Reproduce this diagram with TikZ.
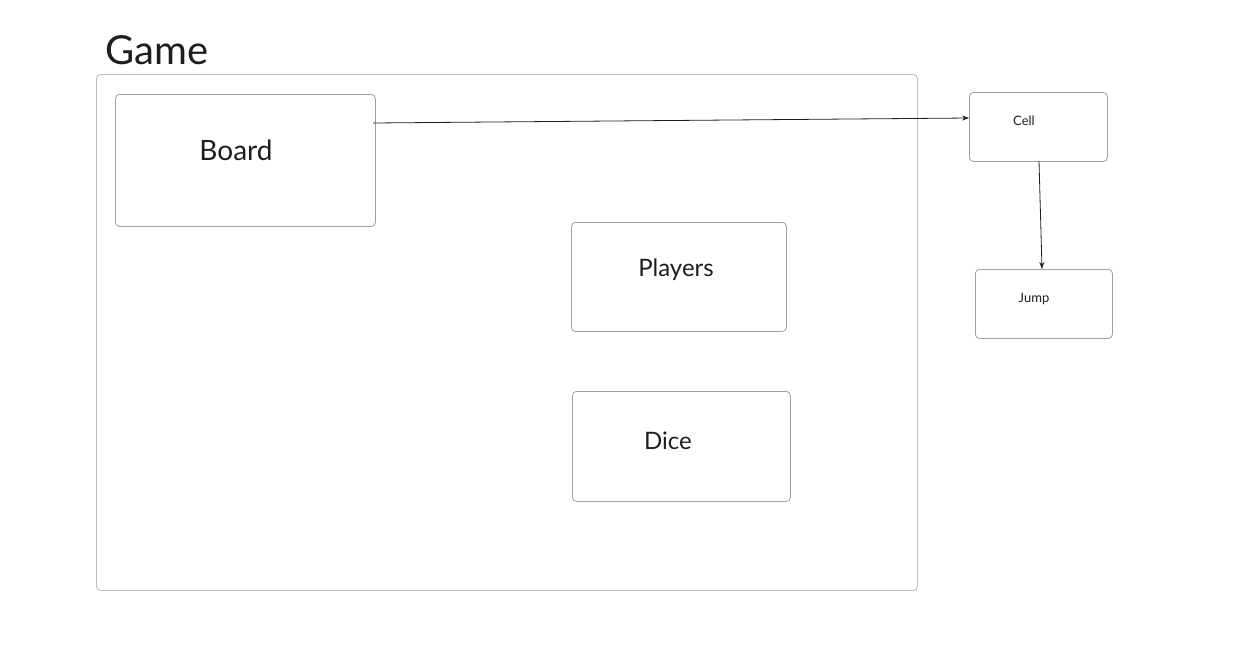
\documentclass[tikz,border=0pt]{standalone}
\usepackage{fontspec}
\setmainfont{Lato}
\usetikzlibrary{arrows.meta}
\definecolor{ink}{HTML}{1E1E1E}
\definecolor{frame}{HTML}{BEBEBE}
\definecolor{boxline}{HTML}{A0A0A0}
\tikzset{
  box/.style={draw=boxline, line width=0.8pt, rounded corners=4pt, inner sep=0pt, anchor=north west},
  frm/.style={draw=frame, line width=0.9pt, rounded corners=4pt, inner sep=0pt, anchor=north west},
  txt/.style={text=ink, inner sep=0pt},
  conn/.style={draw=ink, line width=0.8pt, -{Stealth[length=7pt,width=5pt]}}
}
\begin{document}
\begin{tikzpicture}[x=1pt,y=-1pt]
\useasboundingbox (0,0) rectangle (1260,651);
% frame
\node[frm, minimum width=821pt, minimum height=516pt] (game) at (96,74) {};
\node[txt, font=\fontsize{40}{44}\selectfont] (gameT) at (157,50) {Game};
% boxes
\node[box, minimum width=260pt, minimum height=132pt] (board) at (115,94) {};
\node[txt, font=\fontsize{28}{32}\selectfont] (boardT) at (236,150) {Board};
\node[box, minimum width=215pt, minimum height=109pt] (players) at (571,222) {};
\node[txt, font=\fontsize{24}{28}\selectfont] (playersT) at (676,270) {Players};
\node[box, minimum width=218pt, minimum height=110pt] (dice) at (572,391) {};
\node[txt, font=\fontsize{24}{28}\selectfont] (diceT) at (668,441) {Dice};
\node[box, minimum width=138pt, minimum height=69pt] (cell) at (969,92) {};
\node[txt, font=\fontsize{13}{15}\selectfont] (cellT) at (1024,121) {Cell};
\node[box, minimum width=137pt, minimum height=69pt] (jump) at (975,269) {};
\node[txt, font=\fontsize{13}{15}\selectfont] (jumpT) at (1034,299) {Jump};
% connectors
\coordinate (bS) at (373,123);
\coordinate (cS) at (1039,161);
\draw[conn] (bS) -- (cell.west |- 0,118);
\draw[conn] (cS) -- (1042,269);
\end{tikzpicture}
\end{document}
